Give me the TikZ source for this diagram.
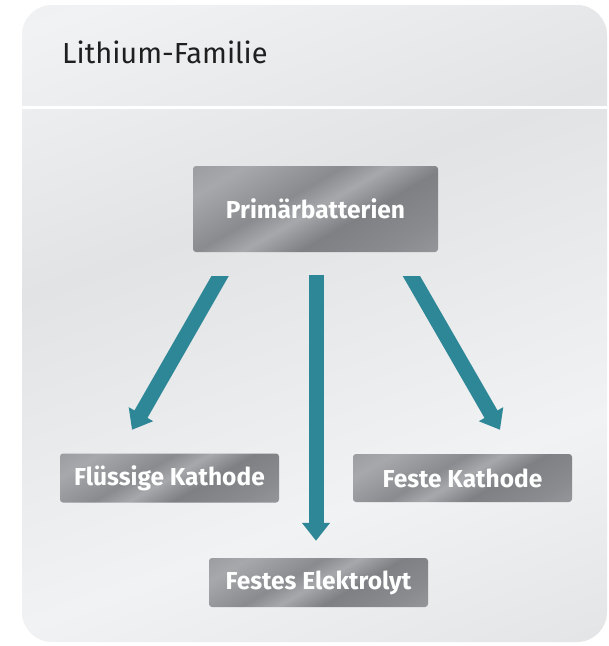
\documentclass[tikz,border=0pt]{standalone}
\usepackage{fontspec}
\setmainfont{Fira Sans}
\usetikzlibrary{arrows.meta,calc}
\definecolor{teal1}{HTML}{2E8796}
\definecolor{bgA}{HTML}{D5D6D9}
\definecolor{bgB}{HTML}{F1F2F3}
\definecolor{bgC}{HTML}{E2E3E5}
\definecolor{mA}{HTML}{8A8B8F}
\definecolor{mB}{HTML}{A7A8AC}
\definecolor{mC}{HTML}{7F8084}
\pgfdeclarehorizontalshading{metal}{100bp}{color(0bp)=(mB); color(25bp)=(mA); color(40bp)=(mC); color(50bp)=(mB); color(58bp)=(mA); color(75bp)=(mB); color(100bp)=(mA)}
\pgfdeclarehorizontalshading{panelsh}{100bp}{color(0bp)=(bgA); color(35bp)=(bgB); color(60bp)=(bgC); color(80bp)=(bgB); color(100bp)=(bgC)}
\tikzset{
  box/.style={shading=metal, shading angle=120, rounded corners=3pt, inner sep=0pt,
    font=\bfseries\fontsize{24.5}{28}\selectfont, text=white},
  arr/.style={draw=teal1, line width=15pt, -{Triangle[width=27pt,length=18pt]}},
}
\begin{document}
\begin{tikzpicture}[x=1pt,y=-1pt]
\useasboundingbox (0,0) rectangle (609,646);
\fill[white] (0,0) rectangle (609,646);
\shade[shading=panelsh, shading angle=110, rounded corners=30pt] (22,5) rectangle (607,642);
\fill[white] (22,105.5) rectangle (607,108.5);
\node[anchor=base west, inner sep=0pt, font=\fontsize{29}{32}\selectfont, text=black!88] (title) at (62,63) {Lithium-Familie};
\node[box, minimum width=245pt, minimum height=86pt] (prim) at (315.5,209) {Primärbatterien};
\node[box, minimum width=219pt, minimum height=49pt] (fl) at (169.5,478) {Flüssige Kathode};
\node[box, minimum width=219pt, minimum height=48pt] (fk) at (462.5,478) {Feste Kathode};
\node[box, minimum width=219pt, minimum height=49pt] (fe) at (318.5,582.5) {Festes Elektrolyt};
\coordinate (ls) at ($(prim.south)+(-95.5,24)$);
\coordinate (le) at ($(fl.north)+(-37.5,-23.5)$);
\coordinate (rs) at ($(prim.south)+(96,24)$);
\coordinate (re) at ($(fk.north)+(37.5,-24)$);
\begin{scope}
\clip (0,276) rectangle (609,646);
\draw[arr] ($(ls)!-0.1!(le)$) -- (le);
\draw[arr] ($(rs)!-0.1!(re)$) -- (re);
\end{scope}
\draw[arr] ($(prim.south)+(0.5,23)$) -- ($(fe.north)+(-2.5,-17)$);
\end{tikzpicture}
\end{document}
